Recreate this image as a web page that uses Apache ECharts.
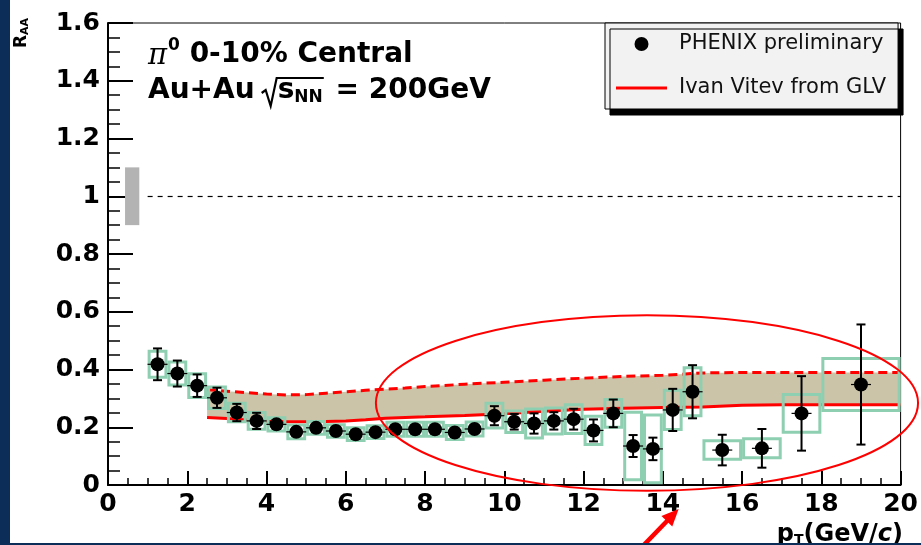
<!DOCTYPE html>
<html>
<head>
<meta charset="utf-8">
<script src="https://cdn.jsdelivr.net/npm/echarts@6/dist/echarts.min.js"></script>
<style>
  html, body { margin: 0; padding: 0; background: #ffffff; }
  #chart { width: 921px; height: 545px; }
</style>
</head>
<body>
<div id="chart"></div>
<script>
// ---- pi0 R_AA, 0-10% central Au+Au at 200 GeV ----
const ptCenters = [1.25, 1.75, 2.25, 2.75, 3.25, 3.75, 4.25, 4.75, 5.25, 5.75, 6.25, 6.75,
  7.25, 7.75, 8.25, 8.75, 9.25, 9.75, 10.25, 10.75, 11.25, 11.75, 12.25, 12.75, 13.25, 13.75,
  14.25, 14.75, 15.5, 16.5, 17.5, 19];
const binLow = [1.0, 1.5, 2.0, 2.5, 3.0, 3.5, 4.0, 4.5, 5.0, 5.5, 6.0, 6.5,
  7.0, 7.5, 8.0, 8.5, 9.0, 9.5, 10.0, 10.5, 11.0, 11.5, 12.0, 12.5, 13.0, 13.5,
  14.0, 14.5, 15, 16, 17, 18];
const binHigh = [1.5, 2.0, 2.5, 3.0, 3.5, 4.0, 4.5, 5.0, 5.5, 6.0, 6.5, 7.0,
  7.5, 8.0, 8.5, 9.0, 9.5, 10.0, 10.5, 11.0, 11.5, 12.0, 12.5, 13.0, 13.5, 14.0,
  14.5, 15.0, 16, 17, 18, 20];
const raaValues = [0.418, 0.386, 0.344, 0.302, 0.251, 0.222, 0.210, 0.184, 0.198, 0.187, 0.176, 0.183,
  0.193, 0.193, 0.193, 0.182, 0.194, 0.240, 0.219, 0.213, 0.222, 0.228, 0.189, 0.248, 0.135, 0.125,
  0.260, 0.323, 0.121, 0.127, 0.248, 0.348];
const statErrors = [0.055, 0.045, 0.039, 0.035, 0.030, 0.028, 0.014, 0.010, 0.010, 0.010, 0.010, 0.010,
  0.010, 0.010, 0.010, 0.010, 0.012, 0.033, 0.027, 0.035, 0.030, 0.036, 0.038, 0.048, 0.038, 0.039,
  0.073, 0.092, 0.053, 0.067, 0.129, 0.208];
const sysErrors = [0.045, 0.040, 0.041, 0.037, 0.032, 0.029, 0.023, 0.024, 0.022, 0.022, 0.022, 0.022,
  0.024, 0.024, 0.024, 0.024, 0.024, 0.043, 0.037, 0.050, 0.045, 0.050, 0.049, 0.048, 0.117, 0.117,
  0.068, 0.083, 0.032, 0.033, 0.065, 0.090];

// ---- GLV energy-loss band (Vitev) ----
const theoryPt = [2.5, 3, 3.5, 4, 4.5, 5, 5.5, 6, 6.5, 7, 7.5, 8, 9, 10, 11, 12, 13, 14, 15, 16, 17, 18, 19, 20];
const theoryLower = [0.234, 0.230, 0.225, 0.221, 0.219, 0.219, 0.220, 0.222, 0.226, 0.231, 0.234, 0.236,
  0.241, 0.247, 0.255, 0.262, 0.266, 0.268, 0.270, 0.276, 0.278, 0.278, 0.278, 0.278];
const theoryUpper = [0.330, 0.325, 0.320, 0.315, 0.312, 0.313, 0.318, 0.323, 0.328, 0.332, 0.336, 0.341,
  0.349, 0.356, 0.363, 0.370, 0.376, 0.380, 0.388, 0.390, 0.390, 0.390, 0.390, 0.390];

// ---- normalisation uncertainty at R_AA = 1 ----
const normBoxX = [0.43, 0.79];
const normBoxY = [0.90, 1.10];
const unityLineX = [1.0, 20.0];

// ---- highlight annotations (data units) ----
const ellipseCenter = [13.6, 0.284];
const ellipseRadii = [6.84, 0.304];
const arrowTail = [13.40, -0.225];
const arrowTip = [14.40, -0.083];

const SANS = '"DejaVu Sans", "Liberation Sans", Arial, sans-serif';
const GREEN = '#8fcfb1';
const TAN = '#cbc4a8';
const RED = '#ff0000';

const chart = echarts.init(document.getElementById('chart'), null, { renderer: 'canvas' });

// text measurement for the hand-laid title lines
const measureCtx = document.createElement('canvas').getContext('2d');
function textWidth(font, s) { measureCtx.font = font; return measureCtx.measureText(s).width; }

const fMain = 'bold 28px ' + SANS;
const fSup = 'bold 17px ' + SANS;
const fPi = 'italic 29px "DejaVu Serif", "Liberation Serif", serif';

// line 1: pi^0 0-10% Central
const x0 = 148;
const wPi = textWidth(fPi, '\u03c0');
const xSup = x0 + wPi + 1;
const xL1 = xSup + textWidth(fSup, '0');
// line 2: Au+Au sqrt(s_NN) = 200GeV
const wAu = textWidth(fMain, 'Au+Au');
const xRad = x0 + wAu + 7;
const xS = xRad + 16;
const xNN = xS + textWidth(fMain, 's');
const xNNend = xNN + textWidth(fSup, 'NN');
const xEq = xNNend + 3;

const titleGraphics = [
  { type: 'text', x: x0, y: 56, style: { text: '\u03c0', font: fPi, fill: '#000', verticalAlign: 'middle' } },
  { type: 'text', x: xSup, y: 46, style: { text: '0', font: fSup, fill: '#000', verticalAlign: 'middle' } },
  { type: 'text', x: xL1, y: 55, style: { text: ' 0-10% Central', font: fMain, fill: '#000', verticalAlign: 'middle' } },
  { type: 'text', x: x0, y: 91, style: { text: 'Au+Au', font: fMain, fill: '#000', verticalAlign: 'middle' } },
  { type: 'polyline', shape: { points: [[xRad, 93], [xRad + 4, 90], [xRad + 9, 106], [xRad + 15, 78], [xNNend + 1, 78]] },
    style: { stroke: '#000', lineWidth: 2.2, fill: null } },
  { type: 'text', x: xS, y: 91, style: { text: 's', font: fMain, fill: '#000', verticalAlign: 'middle' } },
  { type: 'text', x: xNN, y: 98, style: { text: 'NN', font: fSup, fill: '#000', verticalAlign: 'middle' } },
  { type: 'text', x: xEq, y: 91, style: { text: ' = 200GeV', font: fMain, fill: '#000', verticalAlign: 'middle' } }
];

const option = {
  animation: false,
  backgroundColor: '#ffffff',
  grid: { left: 108, right: 18, top: 23, bottom: 60, show: true, borderColor: '#000', borderWidth: 1, backgroundColor: '#fff' },
  legend: {
    data: [
      { name: 'PHENIX preliminary', icon: 'circle' },
      { name: 'Ivan Vitev from GLV', icon: 'path://M0,0L51,0L51,3L0,3Z' }
    ],
    orient: 'vertical',
    left: 605, top: 23,
    padding: [10, 12, 10, 11],
    itemGap: 22,
    itemWidth: 51, itemHeight: 14,
    backgroundColor: '#f2f2f2',
    borderColor: '#000', borderWidth: 1, borderRadius: 0,
    shadowColor: '#000', shadowBlur: 0, shadowOffsetX: 5, shadowOffsetY: 6,
    textStyle: { fontFamily: SANS, fontSize: 21, color: '#111', lineHeight: 22, padding: [0, 0, 0, 7] },
    selectedMode: false
  },
  xAxis: {
    type: 'value', min: 0, max: 20, interval: 2,
    axisLine: { lineStyle: { color: '#000', width: 2 } },
    axisTick: { inside: true, length: 14, lineStyle: { color: '#000', width: 2 } },
    minorTick: { show: true, splitNumber: 4, length: 7, lineStyle: { color: '#000', width: 1.5 } },
    splitLine: { show: false },
    axisLabel: { color: '#000', fontFamily: SANS, fontWeight: 'bold', fontSize: 25, margin: 7, showMinLabel: true, showMaxLabel: true }
  },
  yAxis: {
    type: 'value', min: 0, max: 1.6, interval: 0.2,
    axisLine: { lineStyle: { color: '#000', width: 2 } },
    axisTick: { inside: true, length: 25, lineStyle: { color: '#000', width: 2 } },
    minorTick: { show: true, splitNumber: 4, length: 12, lineStyle: { color: '#000', width: 1.5 } },
    splitLine: { show: false },
    axisLabel: { color: '#000', fontFamily: SANS, fontWeight: 'bold', fontSize: 25, margin: 8, showMinLabel: true, showMaxLabel: true }
  },
  series: [
    // filled spread between lower and upper GLV curves
    {
      name: 'GLV spread', type: 'custom', silent: true, z: 1,
      data: theoryPt.map((x, i) => [x, theoryLower[i], theoryUpper[i]]),
      encode: { x: 0, y: [1, 2] },
      renderItem: function (params, api) {
        if (params.dataIndex !== 0) return null;
        const upper = theoryPt.map((x, i) => api.coord([x, theoryUpper[i]]));
        const lower = theoryPt.map((x, i) => api.coord([x, theoryLower[i]])).reverse();
        return { type: 'polygon', shape: { points: upper.concat(lower) }, style: { fill: TAN } };
      }
    },
    {
      name: 'GLV upper', type: 'line', symbol: 'none', silent: true, z: 2,
      lineStyle: { color: RED, width: 3, type: [9, 5] },
      data: theoryPt.map((x, i) => [x, theoryUpper[i]])
    },
    {
      name: 'Ivan Vitev from GLV', type: 'line', symbol: 'none', silent: true, z: 2,
      lineStyle: { color: RED, width: 3 },
      itemStyle: { color: RED },
      data: theoryPt.map((x, i) => [x, theoryLower[i]])
    },
    // normalisation uncertainty box
    {
      name: 'normalisation', type: 'custom', silent: true, z: 2,
      data: [[normBoxX[0], normBoxX[1], normBoxY[0], normBoxY[1]]],
      encode: { x: [0, 1], y: [2, 3] },
      renderItem: function (params, api) {
        const a = api.coord([api.value(0), api.value(3)]);
        const b = api.coord([api.value(1), api.value(2)]);
        return { type: 'rect', shape: { x: a[0], y: a[1], width: b[0] - a[0], height: b[1] - a[1] },
          style: { fill: '#b3b3b3' } };
      }
    },
    // systematic uncertainty boxes
    {
      name: 'systematics', type: 'custom', silent: true, z: 3,
      data: ptCenters.map((x, i) => [binLow[i], binHigh[i], raaValues[i] - sysErrors[i], raaValues[i] + sysErrors[i]]),
      encode: { x: [0, 1], y: [2, 3] },
      renderItem: function (params, api) {
        const a = api.coord([api.value(0), api.value(3)]);
        const b = api.coord([api.value(1), api.value(2)]);
        return { type: 'rect', shape: { x: a[0] + 1.5, y: a[1], width: b[0] - a[0] - 3, height: b[1] - a[1] },
          style: { fill: null, stroke: GREEN, lineWidth: 3 } };
      }
    },
    // statistical error bars
    {
      name: 'statistical', type: 'custom', silent: true, z: 4,
      data: ptCenters.map((x, i) => [x, raaValues[i] - statErrors[i], raaValues[i] + statErrors[i], raaValues[i]]),
      encode: { x: 0, y: [1, 2] },
      renderItem: function (params, api) {
        const lo = api.coord([api.value(0), api.value(1)]);
        const hi = api.coord([api.value(0), api.value(2)]);
        const c = api.coord([api.value(0), api.value(3)]);
        const cap = 4.5;
        const st = { stroke: '#000', lineWidth: 2 };
        return { type: 'group', children: [
          { type: 'line', shape: { x1: hi[0], y1: hi[1], x2: lo[0], y2: lo[1] }, style: st },
          { type: 'line', shape: { x1: hi[0] - cap, y1: hi[1], x2: hi[0] + cap, y2: hi[1] }, style: st },
          { type: 'line', shape: { x1: lo[0] - cap, y1: lo[1], x2: lo[0] + cap, y2: lo[1] }, style: st },
          { type: 'line', shape: { x1: c[0] - 10, y1: c[1], x2: c[0] + 10, y2: c[1] }, style: { stroke: '#000', lineWidth: 1.2 } }
        ] };
      }
    },
    // measured points
    {
      name: 'PHENIX preliminary', type: 'scatter', symbol: 'circle', symbolSize: 14, z: 5, silent: true,
      itemStyle: { color: '#000', opacity: 1 },
      data: ptCenters.map((x, i) => [x, raaValues[i]]),
      markLine: {
        silent: true, symbol: ['none', 'none'], animation: false,
        label: { show: false },
        lineStyle: { color: '#000', width: 1.2, type: [5, 5] },
        emphasis: { disabled: true },
        data: [[{ coord: [unityLineX[0], 1] }, { coord: [unityLineX[1], 1] }]]
      }
    },
    // highlight ellipse and arrow
    {
      name: 'highlight', type: 'custom', silent: true, z: 6,
      data: [[ellipseCenter[0], ellipseCenter[1]]],
      encode: { x: 0, y: 1 },
      renderItem: function (params, api) {
        const c = api.coord([api.value(0), api.value(1)]);
        const r = api.size([ellipseRadii[0], ellipseRadii[1]]);
        const tail = api.coord(arrowTail);
        const tip = api.coord(arrowTip);
        const dx = tip[0] - tail[0], dy = tip[1] - tail[1];
        const len = Math.hypot(dx, dy), ux = dx / len, uy = dy / len;
        const headLen = 17, headW = 7.5;
        const base = [tip[0] - ux * headLen, tip[1] - uy * headLen];
        return { type: 'group', children: [
          { type: 'ellipse', shape: { cx: c[0], cy: c[1], rx: r[0], ry: r[1] },
            style: { fill: null, stroke: RED, lineWidth: 2 } },
          { type: 'line', shape: { x1: tail[0], y1: tail[1], x2: base[0] + ux * 2, y2: base[1] + uy * 2 },
            style: { stroke: RED, lineWidth: 4.5 } },
          { type: 'polygon', shape: { points: [tip, [base[0] - uy * headW, base[1] + ux * headW], [base[0] + uy * headW, base[1] - ux * headW]] },
            style: { fill: RED } }
        ] };
      }
    }
  ],
  graphic: [
    // axis titles
    { type: 'text', x: 22, y: 33, rotation: Math.PI / 2,
      style: { text: '{r|R}{s|AA}', align: 'center', verticalAlign: 'middle',
        rich: { r: { font: 'bold 17px ' + SANS, fill: '#000', lineHeight: 17, verticalAlign: 'top' },
                s: { font: 'bold 11px ' + SANS, fill: '#000', lineHeight: 7, verticalAlign: 'bottom' } } } },
    { type: 'text', x: 903, y: 535, z: 10,
      style: { text: '{p|p}{t|T}{b|(GeV/}{c|c}{b|)}', align: 'right', verticalAlign: 'middle',
        rich: { p: { font: 'bold 24px ' + SANS, fill: '#000', lineHeight: 24, verticalAlign: 'top' },
                t: { font: 'bold 14px ' + SANS, fill: '#000', lineHeight: 10, verticalAlign: 'bottom' },
                b: { font: 'bold 24px ' + SANS, fill: '#000', lineHeight: 24, verticalAlign: 'top' },
                c: { font: 'italic bold 24px ' + SANS, fill: '#000', lineHeight: 24, verticalAlign: 'top' } } } },
    { type: 'group', children: titleGraphics },
    // slide frame
    { type: 'rect', left: 0, top: 0, z: 100, shape: { width: 10, height: 545 }, style: { fill: '#0b2d57' } },
    { type: 'rect', left: 0, top: 543, z: 100, shape: { width: 921, height: 2 }, style: { fill: '#0b2d57' } }
  ]
};

chart.setOption(option);
</script>
</body>
</html>
